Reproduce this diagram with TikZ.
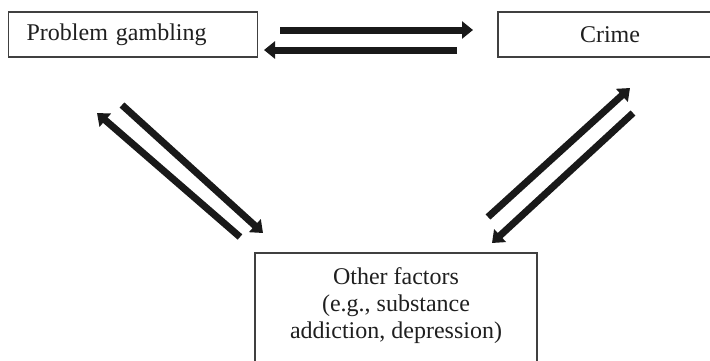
\documentclass[tikz,border=0pt]{standalone}
\usepackage{fontspec}
\setmainfont{Liberation Serif}
\usepackage{tikz}
\usetikzlibrary{arrows.meta, positioning, calc}

\begin{document}
\begin{tikzpicture}[x=0.5pt, y=-0.5pt,
        box/.style={draw=black!75, line width=0.6pt, font=\fontsize{12}{13.5}\selectfont, text=black!88},
        link/.style={line width=3.5pt, draw=black!90, -{Triangle[length=5.5pt, width=8.5pt]}}]

        % Rahmen des Bildes
        \useasboundingbox (0,0) rectangle (710,360);
        \clip (0,0) rectangle (710,360);

        % Kästen
        \node[box, anchor=west, inner xsep=9pt, text width=106.5pt, minimum height=22.5pt, align=left] (gambling) at (8,34.5) {Problem gambling}; % links oben
        \node[box, minimum width=112pt, minimum height=22.5pt] (crime) at (610,34.5) {Crime}; % rechts oben
        \node[box, minimum width=141pt, minimum height=61pt] (otherbox) at (396,314) {}; % unten
        \node[font=\fontsize{12}{13.5}\selectfont, text=black!88, align=center] (other) at (396,306) {Other factors\\(e.g., substance\\addiction, depression)};

        % Enden der Pfeile
        \coordinate (gc1) at (280,30);  \coordinate (cg1) at (473,30);
        \coordinate (cg2) at (457,50);  \coordinate (gc2) at (264,50);
        \coordinate (og1) at (240,237); \coordinate (go1) at (97,113);
        \coordinate (go2) at (122,105); \coordinate (og2) at (263,233);
        \coordinate (oc1) at (488,217); \coordinate (co1) at (630,88);
        \coordinate (co2) at (633,113); \coordinate (oc2) at (492,243);

        % Pfeile
        \draw[link] (gc1) -- (cg1); % gambling -> crime
        \draw[link] (cg2) -- (gc2); % crime -> gambling
        \draw[link] (og1) -- (go1); % other -> gambling
        \draw[link] (go2) -- (og2); % gambling -> other
        \draw[link] (oc1) -- (co1); % other -> crime
        \draw[link] (co2) -- (oc2); % crime -> other

\end{tikzpicture}
\end{document}
